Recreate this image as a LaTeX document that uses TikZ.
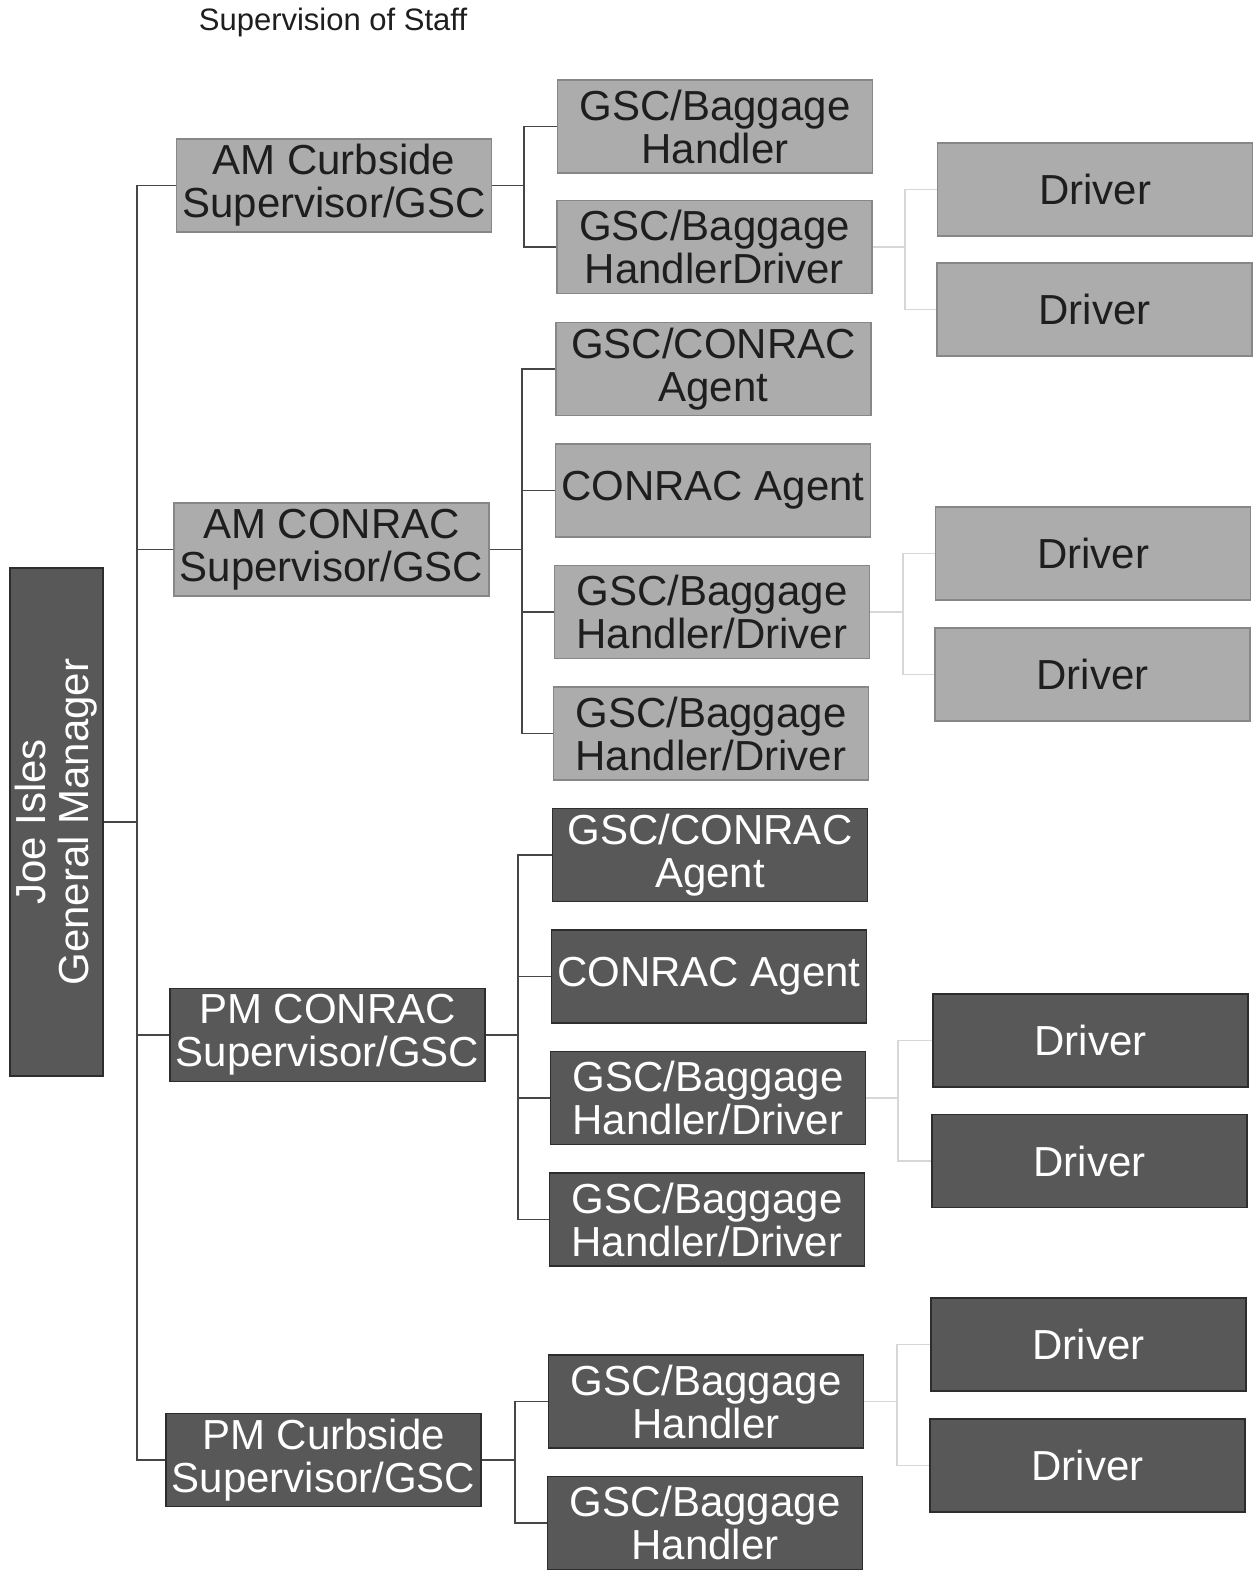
\documentclass[tikz,border=0pt]{standalone}
\usepackage{fontspec}
\setmainfont{Liberation Sans}
\definecolor{lightfill}{RGB}{172,172,172}
\definecolor{lightborder}{RGB}{135,135,135}
\definecolor{darkfill}{RGB}{88,88,88}
\definecolor{darkborder}{RGB}{45,45,45}
\definecolor{linegray}{RGB}{70,70,70}
\definecolor{faintgray}{RGB}{215,215,215}
\definecolor{lighttext}{RGB}{30,30,30}
\begin{document}
\begin{tikzpicture}[x=1pt,y=-1pt,
  box/.style={line width=1.2pt, inner sep=0pt, align=center,
    font=\fontsize{42}{43}\selectfont, minimum width=315, minimum height=93},
  light/.style={box, fill=lightfill, draw=lightborder, text=lighttext},
  dark/.style={box, fill=darkfill, draw=darkborder, text=white},
  conn/.style={draw=linegray, line width=1.4pt},
  faint/.style={draw=faintgray, line width=1.2pt}]
\useasboundingbox (0,0) rectangle (1255,1572);
\fill[white] (0,0) rectangle (1255,1572);

\node[font=\fontsize{31}{34}\selectfont, text=lighttext] (title) at (333,22) {Supervision of Staff};

% root
\node[dark, rotate=90, minimum width=508, minimum height=93] (root) at (56.5,822) {Joe Isles\\General Manager};

% level 1
\node[light] (s1) at (334,185.5) {AM Curbside\\Supervisor/GSC};
\node[light] (s2) at (331.5,549.5) {AM CONRAC\\Supervisor/GSC};
\node[dark]  (s3) at (327.5,1035) {PM CONRAC\\Supervisor/GSC};
\node[dark]  (s4) at (323.5,1460) {PM Curbside\\Supervisor/GSC};

% level 2
\node[light] (a1) at (715,126.5) {GSC/Baggage\\Handler};
\node[light] (a2) at (714.5,247) {GSC/Baggage\\HandlerDriver};
\node[light] (c1) at (713.5,369) {GSC/CONRAC\\Agent};
\node[light] (c2) at (713,490.5) {CONRAC Agent};
\node[light] (c3) at (712,612) {GSC/Baggage\\Handler/Driver};
\node[light] (c4) at (711,733.5) {GSC/Baggage\\Handler/Driver};
\node[dark] (d1) at (710,855) {GSC/CONRAC\\Agent};
\node[dark] (d2) at (709,976.5) {CONRAC Agent};
\node[dark] (d3) at (708,1098) {GSC/Baggage\\Handler/Driver};
\node[dark] (d4) at (707,1219.5) {GSC/Baggage\\Handler/Driver};
\node[dark] (e1) at (706,1401.5) {GSC/Baggage\\Handler};
\node[dark] (e2) at (705,1523) {GSC/Baggage\\Handler};

% level 3
\node[light] (r1) at (1095,189.5) {Driver};
\node[light] (r2) at (1094.5,309.5) {Driver};
\node[light] (r3) at (1093,553.5) {Driver};
\node[light] (r4) at (1092.5,674.5) {Driver};
\node[dark] (r5) at (1090.5,1040.5) {Driver};
\node[dark] (r6) at (1089.5,1161) {Driver};
\node[dark] (r7) at (1088.5,1344.5) {Driver};
\node[dark] (r8) at (1087.5,1465.5) {Driver};

% buses
\coordinate (b0) at (137,0);
\coordinate (b1) at (524,0);
\coordinate (b2) at (522,0);
\coordinate (b3) at (518,0);
\coordinate (b4) at (515,0);
\coordinate (f1) at (905,0);
\coordinate (f2) at (903,0);
\coordinate (f3) at (898,0);
\coordinate (f4) at (897,0);

% root connectors
\draw[conn] (root.south) -- (b0 |- root.south);
\draw[conn] (s1.west) -| (b0 |- s4.west) -- (s4.west);
\draw[conn] (s2.west) -- (b0 |- s2.west);
\draw[conn] (s3.west) -- (b0 |- s3.west);

% level 1 -> 2
\draw[conn] (s1.east) -- (b1 |- s1.east);
\draw[conn] (a1.west) -| (b1 |- a2.west) -- (a2.west);
\draw[conn] (s2.east) -- (b2 |- s2.east);
\draw[conn] (c1.west) -| (b2 |- c4.west) -- (c4.west);
\draw[conn] (c2.west) -- (b2 |- c2.west);
\draw[conn] (c3.west) -- (b2 |- c3.west);
\draw[conn] (s3.east) -- (b3 |- s3.east);
\draw[conn] (d1.west) -| (b3 |- d4.west) -- (d4.west);
\draw[conn] (d2.west) -- (b3 |- d2.west);
\draw[conn] (d3.west) -- (b3 |- d3.west);
\draw[conn] (s4.east) -- (b4 |- s4.east);
\draw[conn] (e1.west) -| (b4 |- e2.west) -- (e2.west);

% level 2 -> 3
\draw[faint] (a2.east) -- (f1 |- a2.east);
\draw[faint] (r1.west) -| (f1 |- r2.west) -- (r2.west);
\draw[faint] (c3.east) -- (f2 |- c3.east);
\draw[faint] (r3.west) -| (f2 |- r4.west) -- (r4.west);
\draw[faint] (d3.east) -- (f3 |- d3.east);
\draw[faint] (r5.west) -| (f3 |- r6.west) -- (r6.west);
\draw[faint] (e1.east) -- (f4 |- e1.east);
\draw[faint] (r7.west) -| (f4 |- r8.west) -- (r8.west);
\end{tikzpicture}
\end{document}
